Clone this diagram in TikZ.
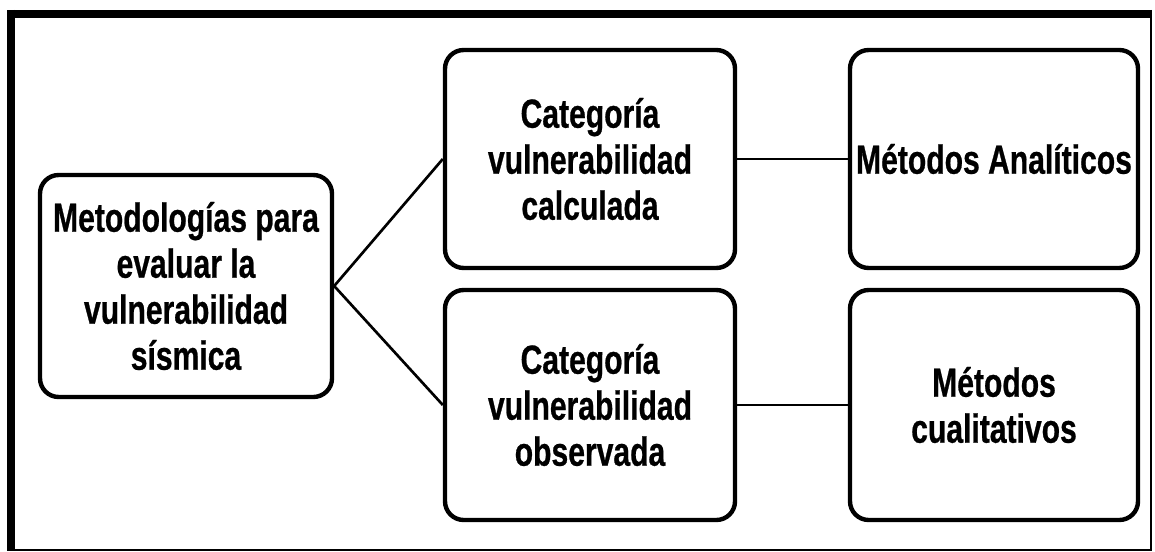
\documentclass[tikz,border=0pt]{standalone}
\usepackage{fontspec}
\setmainfont{Liberation Sans}[FakeStretch=0.74,FakeBold=0.6]
\usepackage{xcolor}
\usepackage{tikz}

\tikzset{
	catbox/.style={draw, line width=3.3pt, rounded corners=14pt, align=center, inner sep=2pt,
		font=\fontsize{30.5}{34.5}\selectfont\bfseries},
	link/.style={line width=2pt}
}

\begin{document}
\begin{tikzpicture}[x=0.75pt,y=0.75pt,yscale=-1,xscale=1]
	\useasboundingbox (0,0) rectangle (1155,552);
	
	%Shape: Frame
	\draw [line width=6pt] (7,14) -- (1152,14) ;
	\draw [line width=6pt] (11,10) -- (11,551) ;
	\draw [line width=1.5pt] (1151,10) -- (1151,551) ;
	\draw [line width=1.5pt] (7,550) -- (1152,550) ;
	
	% Text Node
	\node [catbox, minimum width=219pt, minimum height=166.5pt] (metodo) at (186,286) {Metodologías para\\evaluar la\\vulnerabilidad\\sísmica};
	% Text Node
	\node [catbox, minimum width=217.5pt, minimum height=163.5pt] (calc) at (590,159) {Categoría\\vulnerabilidad\\calculada};
	% Text Node
	\node [catbox, minimum width=217.5pt, minimum height=172.5pt] (obs) at (590,405) {Categoría\\vulnerabilidad\\observada};
	% Text Node
	\node [catbox, minimum width=216pt, minimum height=163.5pt] (analit) at (994,159) {Métodos Analíticos};
	% Text Node
	\node [catbox, minimum width=216pt, minimum height=172.5pt] (cualit) at (994,405) {Métodos\\cualitativos};
	
	%Straight Lines
	\draw [link] (metodo.east) -- (calc.west) ;
	\draw [link] (metodo.east) -- (obs.west) ;
	\draw [link] (calc.east) -- (analit.west) ;
	\draw [link] (obs.east) -- (cualit.west) ;
	
\end{tikzpicture}
\end{document}
